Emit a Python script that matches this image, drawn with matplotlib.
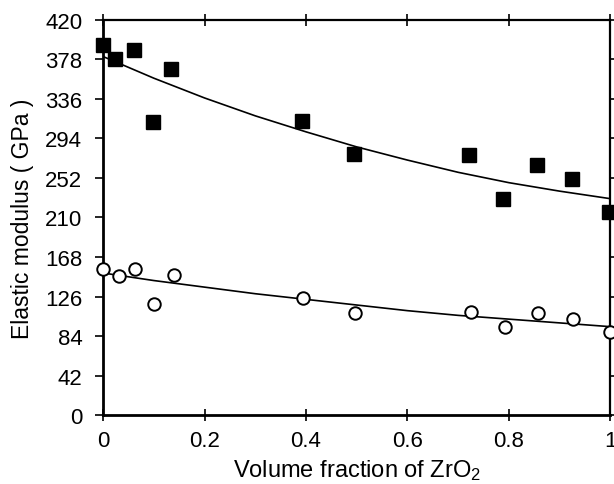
import matplotlib
matplotlib.use('Agg')
import matplotlib.pyplot as plt

plt.rcParams['font.family'] = ['Liberation Sans', 'DejaVu Sans']
plt.rcParams['mathtext.fontset'] = 'custom'
plt.rcParams['mathtext.rm'] = 'Liberation Sans'
plt.rcParams['mathtext.it'] = 'Liberation Sans'

x_sq = [0.0, 0.024, 0.06, 0.098, 0.133, 0.392, 0.494, 0.722, 0.788, 0.855, 0.924, 0.997]
e_sq = [393, 378, 388, 311, 368, 312, 277, 276, 230, 266, 251, 216]

x_ci = [0.0, 0.032, 0.063, 0.101, 0.139, 0.394, 0.496, 0.725, 0.792, 0.857, 0.926, 0.999]
e_ci = [155, 148, 155, 118, 149, 124, 109, 110, 94, 108, 102, 88]

# fitted curves
x_fit = [0.0, 0.1, 0.2, 0.3, 0.4, 0.5, 0.6, 0.7, 0.8, 0.9, 1.0]
fit_upper = [381, 358, 337, 318, 301, 285, 271, 258, 247, 238, 230]
fit_lower = [151, 143, 136, 129, 123, 117, 111, 106, 102, 98, 94]

xticks = [0, 0.2, 0.4, 0.6, 0.8, 1]
xtick_labels = ['0', '0.2', '0.4', '0.6', '0.8', '1']
yticks = [0, 42, 84, 126, 168, 210, 252, 294, 336, 378, 420]

fig = plt.figure(figsize=(6.14, 4.85), dpi=100)
ax = fig.add_axes([0.168, 0.142, 0.826, 0.815])

ax.plot(x_fit, fit_upper, color='black', lw=1.2, zorder=2)
ax.plot(x_fit, fit_lower, color='black', lw=1.2, zorder=2)
ax.plot(x_sq, e_sq, 's', color='black', ms=9.5, zorder=3, clip_on=False)
ax.plot(x_ci, e_ci, 'o', mfc='white', mec='black', mew=1.4, ms=9, zorder=3, clip_on=False)

ax.set_xlim(0, 1)
ax.set_ylim(0, 420)
ax.set_xticks(xticks)
ax.set_xticklabels(xtick_labels)
ax.set_yticks(yticks)

for side in ['left', 'bottom']:
    ax.spines[side].set_linewidth(2.0)
for side in ['top', 'right']:
    ax.spines[side].set_linewidth(1.6)

ax.tick_params(axis='both', which='major', labelsize=16, width=1.2, colors='black')
ax.tick_params(axis='y', direction='out', length=6, pad=9, left=True, right=True)
ax.tick_params(axis='x', direction='inout', length=8, pad=7, top=True, bottom=True)

ax.set_xlabel('Volume fraction of ZrO$_2$', fontsize=17, labelpad=4)
ax.set_ylabel('Elastic modulus ( GPa )', fontsize=16.5, labelpad=8)

fig.savefig('out.png', dpi=100)
